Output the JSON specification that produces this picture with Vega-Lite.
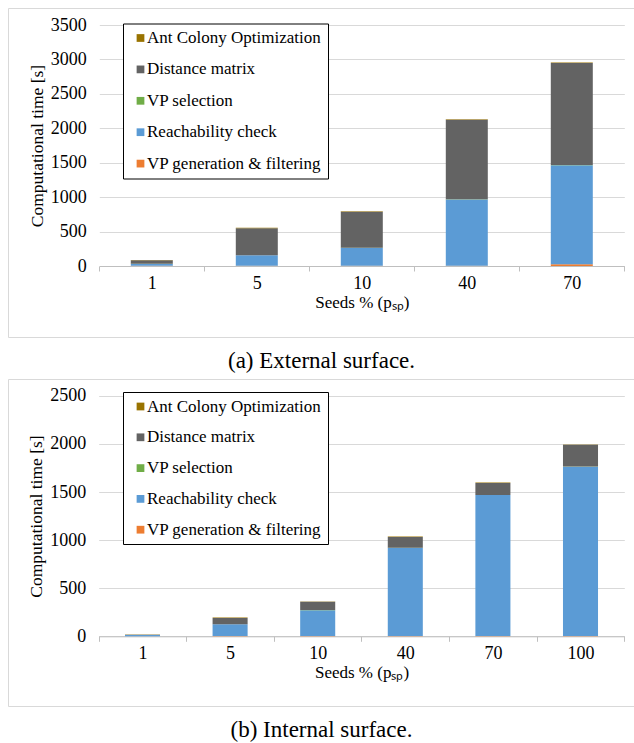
{
  "$schema": "https://vega.github.io/schema/vega-lite/v6.json",
  "padding": {"left": 7, "top": 7, "right": 0, "bottom": 0},
  "background": "white",
  "config": {
    "font": "Liberation Serif",
    "view": {"stroke": "#d9d9d9", "strokeWidth": 1},
    "axis": {"labelFont": "Liberation Serif", "titleFont": "Liberation Serif", "labelColor": "black", "titleColor": "black", "titleFontWeight": "normal"},
    "legend": {"labelFont": "Liberation Serif"}
  },
  "data": {"values": [
    {"surface": "External", "seeds": 1, "component": "VP generation & filtering", "rank": 1, "time": 2},
    {"surface": "External", "seeds": 1, "component": "Reachability check", "rank": 2, "time": 28},
    {"surface": "External", "seeds": 1, "component": "VP selection", "rank": 3, "time": 1},
    {"surface": "External", "seeds": 1, "component": "Distance matrix", "rank": 4, "time": 52},
    {"surface": "External", "seeds": 1, "component": "Ant Colony Optimization", "rank": 5, "time": 4},
    {"surface": "External", "seeds": 5, "component": "VP generation & filtering", "rank": 1, "time": 3},
    {"surface": "External", "seeds": 5, "component": "Reachability check", "rank": 2, "time": 152},
    {"surface": "External", "seeds": 5, "component": "VP selection", "rank": 3, "time": 2},
    {"surface": "External", "seeds": 5, "component": "Distance matrix", "rank": 4, "time": 390},
    {"surface": "External", "seeds": 5, "component": "Ant Colony Optimization", "rank": 5, "time": 8},
    {"surface": "External", "seeds": 10, "component": "VP generation & filtering", "rank": 1, "time": 3},
    {"surface": "External", "seeds": 10, "component": "Reachability check", "rank": 2, "time": 260},
    {"surface": "External", "seeds": 10, "component": "VP selection", "rank": 3, "time": 2},
    {"surface": "External", "seeds": 10, "component": "Distance matrix", "rank": 4, "time": 522},
    {"surface": "External", "seeds": 10, "component": "Ant Colony Optimization", "rank": 5, "time": 8},
    {"surface": "External", "seeds": 40, "component": "VP generation & filtering", "rank": 1, "time": 5},
    {"surface": "External", "seeds": 40, "component": "Reachability check", "rank": 2, "time": 962},
    {"surface": "External", "seeds": 40, "component": "VP selection", "rank": 3, "time": 3},
    {"surface": "External", "seeds": 40, "component": "Distance matrix", "rank": 4, "time": 1155},
    {"surface": "External", "seeds": 40, "component": "Ant Colony Optimization", "rank": 5, "time": 8},
    {"surface": "External", "seeds": 70, "component": "VP generation & filtering", "rank": 1, "time": 25},
    {"surface": "External", "seeds": 70, "component": "Reachability check", "rank": 2, "time": 1437},
    {"surface": "External", "seeds": 70, "component": "VP selection", "rank": 3, "time": 5},
    {"surface": "External", "seeds": 70, "component": "Distance matrix", "rank": 4, "time": 1480},
    {"surface": "External", "seeds": 70, "component": "Ant Colony Optimization", "rank": 5, "time": 8},
    {"surface": "Internal", "seeds": 1, "component": "VP generation & filtering", "rank": 1, "time": 1},
    {"surface": "Internal", "seeds": 1, "component": "Reachability check", "rank": 2, "time": 12},
    {"surface": "Internal", "seeds": 1, "component": "VP selection", "rank": 3, "time": 0.5},
    {"surface": "Internal", "seeds": 1, "component": "Distance matrix", "rank": 4, "time": 2},
    {"surface": "Internal", "seeds": 1, "component": "Ant Colony Optimization", "rank": 5, "time": 2},
    {"surface": "Internal", "seeds": 5, "component": "VP generation & filtering", "rank": 1, "time": 2},
    {"surface": "Internal", "seeds": 5, "component": "Reachability check", "rank": 2, "time": 122},
    {"surface": "Internal", "seeds": 5, "component": "VP selection", "rank": 3, "time": 1},
    {"surface": "Internal", "seeds": 5, "component": "Distance matrix", "rank": 4, "time": 65},
    {"surface": "Internal", "seeds": 5, "component": "Ant Colony Optimization", "rank": 5, "time": 5},
    {"surface": "Internal", "seeds": 10, "component": "VP generation & filtering", "rank": 1, "time": 2},
    {"surface": "Internal", "seeds": 10, "component": "Reachability check", "rank": 2, "time": 270},
    {"surface": "Internal", "seeds": 10, "component": "VP selection", "rank": 3, "time": 1},
    {"surface": "Internal", "seeds": 10, "component": "Distance matrix", "rank": 4, "time": 85},
    {"surface": "Internal", "seeds": 10, "component": "Ant Colony Optimization", "rank": 5, "time": 5},
    {"surface": "Internal", "seeds": 40, "component": "VP generation & filtering", "rank": 1, "time": 3},
    {"surface": "Internal", "seeds": 40, "component": "Reachability check", "rank": 2, "time": 916},
    {"surface": "Internal", "seeds": 40, "component": "VP selection", "rank": 3, "time": 1},
    {"surface": "Internal", "seeds": 40, "component": "Distance matrix", "rank": 4, "time": 112},
    {"surface": "Internal", "seeds": 40, "component": "Ant Colony Optimization", "rank": 5, "time": 6},
    {"surface": "Internal", "seeds": 70, "component": "VP generation & filtering", "rank": 1, "time": 3},
    {"surface": "Internal", "seeds": 70, "component": "Reachability check", "rank": 2, "time": 1466},
    {"surface": "Internal", "seeds": 70, "component": "VP selection", "rank": 3, "time": 1},
    {"surface": "Internal", "seeds": 70, "component": "Distance matrix", "rank": 4, "time": 123},
    {"surface": "Internal", "seeds": 70, "component": "Ant Colony Optimization", "rank": 5, "time": 5},
    {"surface": "Internal", "seeds": 100, "component": "VP generation & filtering", "rank": 1, "time": 4},
    {"surface": "Internal", "seeds": 100, "component": "Reachability check", "rank": 2, "time": 1758},
    {"surface": "Internal", "seeds": 100, "component": "VP selection", "rank": 3, "time": 2},
    {"surface": "Internal", "seeds": 100, "component": "Distance matrix", "rank": 4, "time": 226},
    {"surface": "Internal", "seeds": 100, "component": "Ant Colony Optimization", "rank": 5, "time": 5}
  ]},
  "spacing": 4,
  "resolve": {"scale": {"color": "independent", "x": "independent", "y": "independent"}, "legend": {"color": "independent"}},
  "vconcat": [
    {
      "width": 627,
      "height": 329,
      "transform": [{"filter": "datum.surface === 'External'"}],
      "title": {"text": "(a) External surface.", "orient": "bottom", "offset": 13, "fontSize": 23, "fontWeight": "normal", "font": "Liberation Serif", "anchor": "middle", "color": "black"},
      "mark": {"type": "bar", "width": {"band": 0.4}},
      "encoding": {
        "x": {"field": "seeds", "type": "ordinal", "scale": {"range": [91.3, 616.3], "paddingInner": 0, "paddingOuter": 0},
          "axis": {"title": "Seeds % (pₛₚ)", "labelAngle": 0, "offset": -71, "tickBand": "extent", "grid": false, "domainColor": "#bfbfbf", "tickColor": "#bfbfbf", "tickSize": 5, "labelFont": "Liberation Serif", "titleFont": "Liberation Serif", "labelFontSize": 18, "titleFontSize": 17, "labelPadding": 3, "titlePadding": 2}},
        "y": {"field": "time", "type": "quantitative", "stack": "zero", "scale": {"domain": [0, 3500], "range": [258, 17], "nice": false},
          "axis": {"title": "Computational time [s]", "format": "d", "values": [0, 500, 1000, 1500, 2000, 2500, 3000, 3500], "offset": -91.3, "domain": false, "ticks": false, "grid": true, "gridColor": "#d9d9d9", "labelFont": "Liberation Serif", "titleFont": "Liberation Serif", "labelFontSize": 18, "titleFontSize": 17.5, "labelPadding": 13, "titlePadding": 4}},
        "color": {"field": "component", "type": "nominal",
          "scale": {"domain": ["Ant Colony Optimization", "Distance matrix", "VP selection", "Reachability check", "VP generation & filtering"], "range": ["#997300", "#636363", "#70AD47", "#5B9BD5", "#ED7D31"]},
          "legend": {"orient": "none", "legendX": 115, "legendY": 15.5, "title": null, "strokeColor": "black", "fillColor": "white", "padding": 6, "rowPadding": 13.4, "symbolType": "square", "symbolSize": 60, "symbolStrokeWidth": 0, "symbolOffset": 3, "labelOffset": -2, "labelFontSize": 17, "labelFont": "Liberation Serif", "labelColor": "black", "labelLimit": 300}},
        "order": {"field": "rank", "type": "quantitative"}
      }
    },
    {
      "width": 627,
      "height": 327,
      "transform": [{"filter": "datum.surface === 'Internal'"}],
      "title": {"text": "(b) Internal surface.", "orient": "bottom", "offset": 13, "fontSize": 23, "fontWeight": "normal", "font": "Liberation Serif", "anchor": "middle", "color": "black"},
      "mark": {"type": "bar", "width": {"band": 0.4}},
      "encoding": {
        "x": {"field": "seeds", "type": "ordinal", "scale": {"range": [90.7, 616.3], "paddingInner": 0, "paddingOuter": 0},
          "axis": {"title": "Seeds % (pₛₚ)", "labelAngle": 0, "offset": -69.7, "tickBand": "extent", "grid": false, "domainColor": "#bfbfbf", "tickColor": "#bfbfbf", "tickSize": 5, "labelFont": "Liberation Serif", "titleFont": "Liberation Serif", "labelFontSize": 18, "titleFontSize": 17, "labelPadding": 3, "titlePadding": 2}},
        "y": {"field": "time", "type": "quantitative", "stack": "zero", "scale": {"domain": [0, 2500], "range": [257.3, 16.8], "nice": false},
          "axis": {"title": "Computational time [s]", "format": "d", "values": [0, 500, 1000, 1500, 2000, 2500], "offset": -90.7, "domain": false, "ticks": false, "grid": true, "gridColor": "#d9d9d9", "labelFont": "Liberation Serif", "titleFont": "Liberation Serif", "labelFontSize": 18, "titleFontSize": 17.5, "labelPadding": 13, "titlePadding": 4}},
        "color": {"field": "component", "type": "nominal",
          "scale": {"domain": ["Ant Colony Optimization", "Distance matrix", "VP selection", "Reachability check", "VP generation & filtering"], "range": ["#997300", "#636363", "#70AD47", "#5B9BD5", "#ED7D31"]},
          "legend": {"orient": "none", "legendX": 115, "legendY": 13, "title": null, "strokeColor": "black", "fillColor": "white", "padding": 6, "rowPadding": 12.8, "symbolType": "square", "symbolSize": 60, "symbolStrokeWidth": 0, "symbolOffset": 3, "labelOffset": -2, "labelFontSize": 17, "labelFont": "Liberation Serif", "labelColor": "black", "labelLimit": 300}},
        "order": {"field": "rank", "type": "quantitative"}
      }
    }
  ]
}
